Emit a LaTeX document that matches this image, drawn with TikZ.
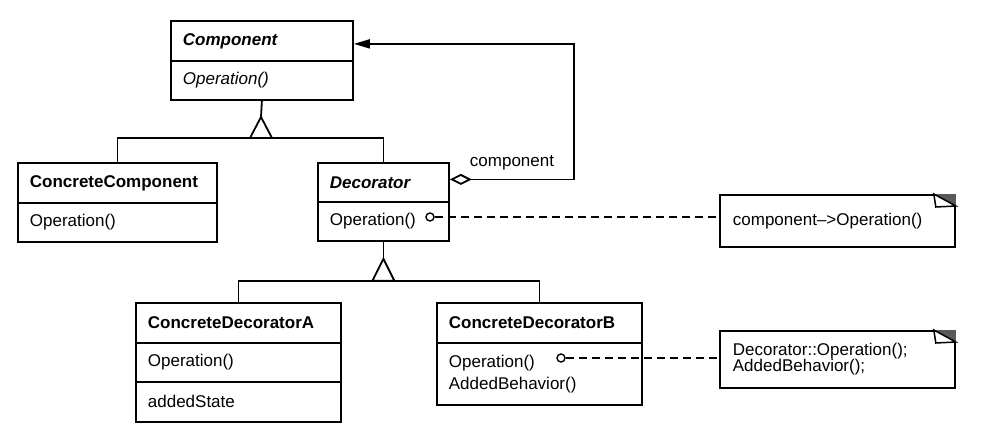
\documentclass[tikz,border=0pt]{standalone}
\usepackage{fontspec}
\setmainfont{Liberation Sans}
\usetikzlibrary{arrows.meta}
\tikzset{
	cls/.style={draw, anchor=north west, inner xsep=12pt, inner ysep=0pt, align=left, minimum height=40pt},
	note/.style={draw, anchor=north west, inner xsep=13pt, inner ysep=0pt, align=left, text width=209pt},
	dot/.style={circle, draw, fill=white, line width=1.4pt, inner sep=0pt, minimum size=8pt},
	link/.style={dash pattern=on 8pt off 5pt},
}
\begin{document}
\begin{tikzpicture}[x=1pt, y=-1pt, line width=1.8pt, font=\fontsize{17}{22}\selectfont]
		\useasboundingbox (0,0) rectangle (996,441);
		
		\node[cls, text width=158pt] (comphead) at (170,20) {\bfseries\itshape Component};
		\node[cls, text width=158pt, minimum height=39pt] (compop) at (170,60) {\itshape Operation()};
		
		\node[cls, text width=175pt] (cchead) at (17,162) {\bfseries ConcreteComponent};
		\node[cls, text width=175pt, minimum height=39pt] (ccop) at (17,202) {Operation()};
		
		\node[cls, text width=107pt, minimum height=39pt] (dechead) at (317,162) {\bfseries\itshape Decorator};
		\node[cls, text width=107pt, minimum height=39pt] (decop) at (317,201) {Operation()};
		
		\node[cls, text width=181pt] (cdahead) at (135,302) {\bfseries ConcreteDecoratorA};
		\node[cls, text width=181pt, minimum height=39pt] (cdaop) at (135,342) {Operation()};
		\node[cls, text width=181pt] (cdaattr) at (135,381) {addedState};
		
		\node[cls, text width=181pt] (cdbhead) at (436,302) {\bfseries ConcreteDecoratorB};
		\node[cls, text width=181pt, minimum height=62pt] (cdbop) at (436,342) {Operation()\\AddedBehavior()};
		
		\node[note, minimum height=52pt] (note1) at (719,194) {component\textendash>Operation()};
		\node[note, minimum height=57pt, font=\fontsize{17}{16}\selectfont] (note2) at (719,330) {Decorator::Operation();\\AddedBehavior();};
		
		\foreach \n in {note1,note2} {
			\fill[black!65] ([xshift=-22pt]\n.north east) -- (\n.north east) -- ([yshift=-12pt]\n.north east) -- cycle;
			\draw[fill=white, line width=1.5pt] ([xshift=-22pt]\n.north east) -- ([xshift=-20pt,yshift=-13pt]\n.north east) -- ([yshift=-12pt]\n.north east) -- cycle;
		}
		
		\coordinate (gen1) at (261,117);
		\coordinate (bar1) at (261,138);
		\draw (compop.south) -- (gen1);
		\draw (cchead.north) |- (bar1) -| (dechead.north);
		\draw[fill=white] (gen1) -- ++(-11,21) -- ++(22,0) -- cycle;
		
		\path (decop.south) ++(0,17) coordinate (gen2) ++(0,22) coordinate (bar2);
		\draw (decop.south) -- (gen2);
		\draw (cdahead.north) |- (bar2) -| (cdbhead.north);
		\draw[fill=white] (gen2) -- ++(-11,22) -- ++(22,0) -- cycle;
		
		\draw[{Diamond[open, length=22pt, width=11pt]}-{Triangle[length=16pt, width=9pt]}] ([yshift=3pt]dechead.east) -- ++(124,0) |- ([yshift=-3pt]comphead.east);
		\node (role) at (512,163) {component};
		
		\node[dot] (dot1) at (430,217) {};
		\node[dot] (dot2) at (561,358) {};
		\draw[link] (dot1) -- (dot1 -| note1.west);
		\draw[link] (dot2) -- (dot2 -| note2.west);
		\end{tikzpicture}
\end{document}
